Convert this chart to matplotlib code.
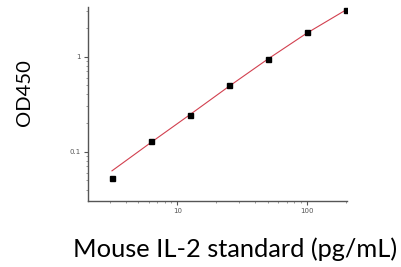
import numpy as np
import matplotlib
matplotlib.use("Agg")
import matplotlib.pyplot as plt
from matplotlib.ticker import LogLocator, NullFormatter, FixedLocator, FixedFormatter

# Data
conc = [3.125, 6.25, 12.5, 25, 50, 100, 200]
od450 = [0.053, 0.13, 0.243, 0.50, 0.95, 1.81, 3.08]
# fitted curve values at the same concentrations
fit_od450 = [0.063, 0.125, 0.245, 0.485, 0.94, 1.76, 3.08]
x_ticks = [10, 100]
x_tick_labels = ["10", "100"]
y_ticks = [0.1, 1]
y_tick_labels = ["0.1", "1"]

fig = plt.figure(figsize=(4.02, 2.67), dpi=100)
ax = fig.add_axes([0.219, 0.248, 0.644, 0.726])

ax.plot(conc, fit_od450, color="#d2404f", lw=0.8, zorder=2)
ax.plot(conc, od450, ls="none", marker="s", ms=3.6, color="black", zorder=3)

ax.set_xscale("log")
ax.set_yscale("log")
ax.set_xlim(2.04, 205)
ax.set_ylim(0.0305, 3.33)

for s in ["top", "right"]:
    ax.spines[s].set_visible(False)
for s in ["left", "bottom"]:
    ax.spines[s].set_color("#555555")
    ax.spines[s].set_linewidth(1.0)

ax.xaxis.set_major_locator(FixedLocator(x_ticks))
ax.xaxis.set_major_formatter(FixedFormatter(x_tick_labels))
ax.yaxis.set_major_locator(FixedLocator(y_ticks))
ax.yaxis.set_major_formatter(FixedFormatter(y_tick_labels))
ax.xaxis.set_minor_locator(LogLocator(base=10, subs=np.arange(2, 10)))
ax.yaxis.set_minor_locator(LogLocator(base=10, subs=np.arange(2, 10)))
ax.xaxis.set_minor_formatter(NullFormatter())
ax.yaxis.set_minor_formatter(NullFormatter())
ax.tick_params(which="major", direction="out", length=3, width=0.8, color="#555555",
               labelsize=5, labelcolor="#555555", pad=2)
ax.tick_params(which="minor", direction="out", length=1.5, width=0.6, color="#888888")

fig.text(0.06, 0.654, "OD450", rotation=90, ha="center", va="center",
         fontsize=14.5, family="Lato")
fig.text(0.585, 0.067, "Mouse IL-2 standard (pg/mL)", ha="center", va="center",
         fontsize=18.3, family="Lato")

fig.savefig("out.png", dpi=100)
